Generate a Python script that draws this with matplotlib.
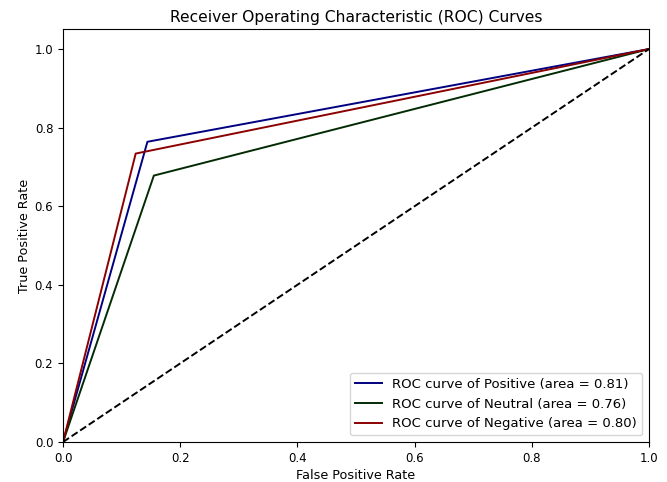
import matplotlib
matplotlib.use("Agg")
import matplotlib.pyplot as plt

# ROC operating points (0,0) -> (fpr, tpr) -> (1,1)
class_names = ["Positive", "Neutral", "Negative"]
fpr_values = [[0.0, 0.144, 1.0], [0.0, 0.155, 1.0], [0.0, 0.124, 1.0]]
tpr_values = [[0.0, 0.764, 1.0], [0.0, 0.678, 1.0], [0.0, 0.734, 1.0]]
auc_values = [0.81, 0.76, 0.80]
line_colors = ["navy", "#032b03", "darkred"]

fig = plt.figure(figsize=(6.67, 4.82), dpi=100)
ax = fig.add_axes([0.0945, 0.083, 0.8785, 0.856])

for name, fpr, tpr, auc, col in zip(class_names, fpr_values, tpr_values, auc_values, line_colors):
    ax.plot(fpr, tpr, color=col, lw=1.4,
            label=f"ROC curve of {name} (area = {auc:.2f})")

# chance line
ax.plot([0, 1], [0, 1], "k--", lw=1.4)

ax.set_xlim(0.0, 1.0)
ax.set_ylim(0.0, 1.05)
ax.tick_params(labelsize=8.5, length=3.5)
ax.set_xlabel("False Positive Rate", fontsize=9.2, labelpad=3)
ax.set_ylabel("True Positive Rate", fontsize=9.2, labelpad=3)
ax.set_title("Receiver Operating Characteristic (ROC) Curves", fontsize=11.2, pad=5)
ax.legend(loc="lower right", fontsize=9.5)

fig.savefig("out.png", dpi=100)
